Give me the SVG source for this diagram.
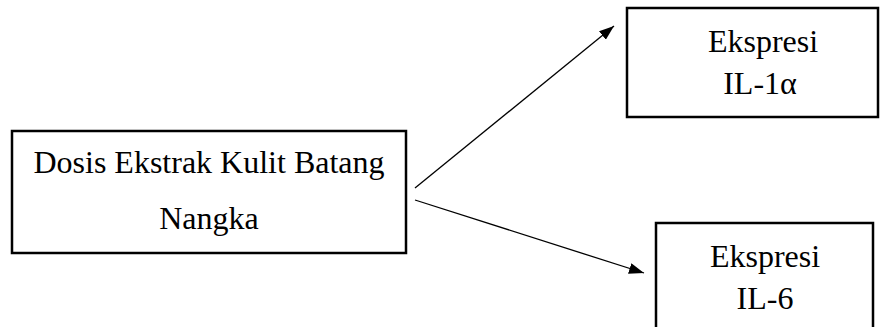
<svg xmlns="http://www.w3.org/2000/svg" width="880" height="327" viewBox="0 0 880 327">
  <style>
    .box { fill: #fff; stroke: #000; stroke-width: 2.5; }
    .lbl { font-family: "Liberation Serif", "Times New Roman", serif; font-size: 32px; fill: #000; text-anchor: middle; }
    .edge { fill: none; stroke: #000; stroke-width: 1.3; marker-end: url(#arrow); }
  </style>
  <defs>
    <marker id="arrow" viewBox="0 0 15 11" refX="15" refY="5.5" markerWidth="15" markerHeight="11" markerUnits="userSpaceOnUse" orient="auto">
      <path d="M0,0 L15,5.5 L0,11 Z" fill="#000"/>
    </marker>
  </defs>
  <rect width="880" height="327" fill="#fff"/>

  <g id="connectors">
    <line class="edge" x1="415" y1="188" x2="614" y2="26"/>
    <line class="edge" x1="415" y1="200" x2="644" y2="273"/>
  </g>

  <g id="dosis">
    <rect class="box" x="12" y="131" width="394" height="122"/>
    <text class="lbl" x="209" y="173">Dosis Ekstrak Kulit Batang</text>
    <text class="lbl" x="209" y="229">Nangka</text>
  </g>

  <g id="il1a">
    <rect class="box" x="627" y="8" width="251" height="109"/>
    <text class="lbl" x="763" y="52">Ekspresi</text>
    <text class="lbl" x="760" y="94">IL-1α</text>
  </g>

  <g id="il6">
    <rect class="box" x="656" y="223" width="217" height="120"/>
    <text class="lbl" x="765" y="267">Ekspresi</text>
    <text class="lbl" x="765" y="309">IL-6</text>
  </g>
</svg>
